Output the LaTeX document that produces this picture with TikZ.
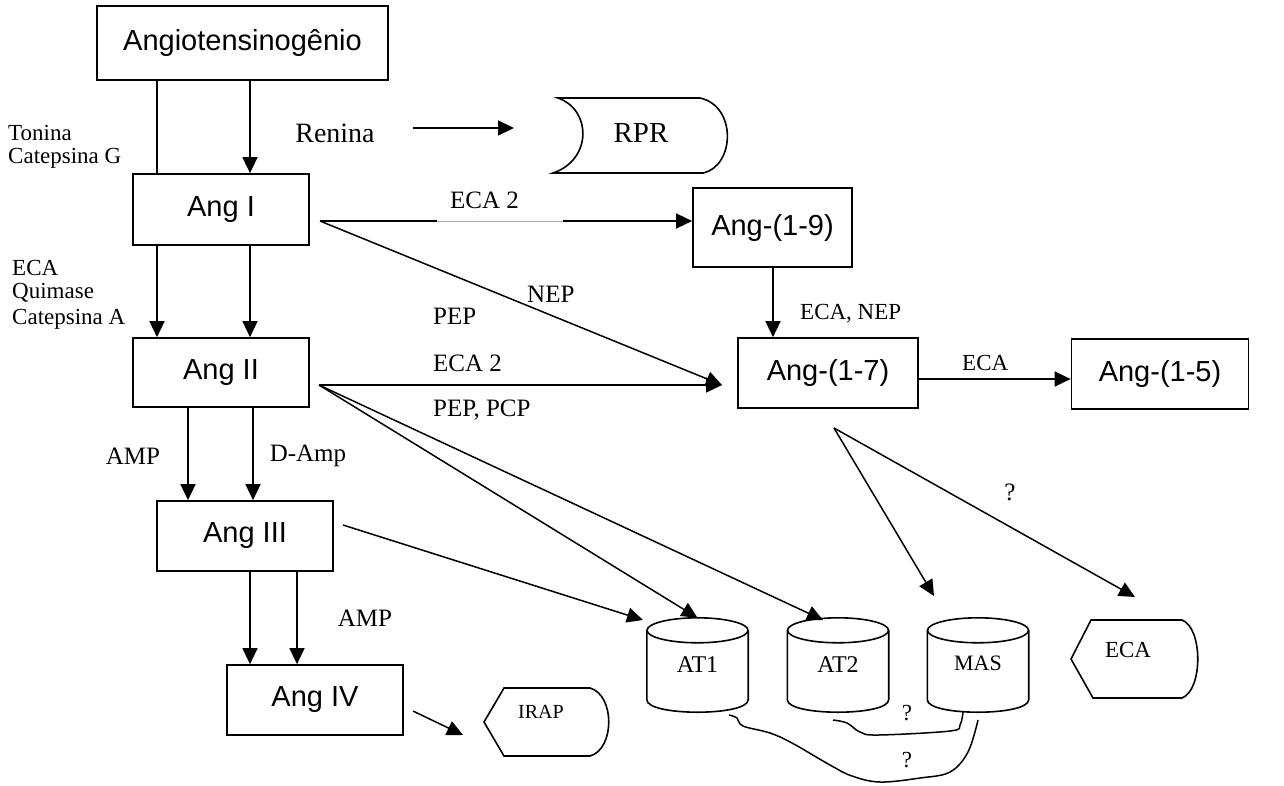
\documentclass[tikz,border=0pt]{standalone}
\usepackage{fontspec}
\setmainfont{Liberation Serif}
\newfontfamily\arialfont{Liberation Sans}
\usetikzlibrary{arrows.meta}
\newcommand\drawcyl[1]{%
 \draw[shp] ([yshift=-12.5pt]#1.north west) -- ([yshift=12.5pt]#1.south west)
   .. controls ([yshift=-4.17pt]#1.south west) and ([yshift=-4.17pt]#1.south east) .. ([yshift=12.5pt]#1.south east)
   -- ([yshift=-12.5pt]#1.north east);
 \draw[shp] ([yshift=-12.5pt]#1.north) ellipse [x radius=50.5pt, y radius=12.5pt];}
\begin{document}
\begin{tikzpicture}[x=1pt,y=-1pt,
  box/.style={draw, line width=1.7pt, inner sep=0pt, font=\arialfont\fontsize{29}{32}\selectfont},
  lbl/.style={font=\fontsize{23}{26}\selectfont, inner sep=0pt},
  lblb/.style={font=\fontsize{25}{28}\selectfont, inner sep=0pt},
  cyl/.style={minimum width=101pt, minimum height=94pt, inner sep=0pt, font=\fontsize{24}{26}\selectfont},
  arr/.style={line width=1.5pt, -{Triangle[length=16pt,width=15pt]}},
  ln/.style={line width=1.5pt},
  shp/.style={line width=1.6pt}]
\useasboundingbox (0,0) rectangle (1284,785);

% boxes
\node[box, minimum width=291pt, minimum height=74pt] (angio) at (242.5,43) {Angiotensinog\^enio};
\node[box, minimum width=176pt, minimum height=71pt] (angI) at (221,209.5) {Ang I};
\node[box, minimum width=176pt, minimum height=69pt] (angII) at (221,372.5) {Ang II};
\node[box, minimum width=176pt, minimum height=70pt] (angIII) at (245,536) {Ang III};
\node[box, minimum width=176pt, minimum height=70pt] (angIV) at (315,700) {Ang IV};
\node[box, minimum width=159pt, minimum height=79pt] (a19) at (772.5,227.5) {Ang-(1-9)};
\node[box, minimum width=180pt, minimum height=70pt] (a17) at (828,373) {Ang-(1-7)};
\node[box, minimum width=177pt, minimum height=70pt] (a15) at (1160,374) {Ang-(1-5)};

% RPR
\node[font=\fontsize{29}{32}\selectfont, inner sep=0pt] (rpr) at (641,133) {RPR};
\draw[shp] (558,98) .. controls (592,110) and (592,160) .. (553,173) -- (703,173)
  .. controls (735,166) and (737,106) .. (700,98) -- cycle;

% cylinders
\node[cyl] (at1) at (697.5,665) {AT1};
\node[cyl] (at2) at (838,665) {AT2};
\node[cyl, font=\fontsize{22}{24}\selectfont] (mas) at (978,665) {\raisebox{3pt}{MAS}};
\drawcyl{at1}
\drawcyl{at2}
\drawcyl{mas}

% display shapes
\node[font=\fontsize{20}{22}\selectfont, inner sep=0pt] (irap) at (541,712) {IRAP};
\draw[shp] (484,722) -- (504,688) -- (590,688) .. controls (615,695) and (615,749) .. (590,756) -- (504,756) -- cycle;
\node[lbl] (ecas) at (1128,650) {ECA};
\draw[shp] (1071,659) -- (1091,620) -- (1182,620) .. controls (1203,628) and (1203,690) .. (1182,698) -- (1093,698) -- cycle;

% labels
\node[lbl, anchor=west] (ton) at (8,133) {Tonina};
\node[lbl, anchor=west] (catg) at (8,158) {Catepsina G};
\node[font=\fontsize{28}{30}\selectfont, inner sep=0pt] (ren) at (335,133) {Renina};
\node[lbl, anchor=west] (eca1) at (12,268) {ECA};
\node[lbl, anchor=west] (quim) at (12,293) {Quimase};
\node[lbl, anchor=west] (cata) at (12,319) {Catepsina A};
\node[lblb, anchor=west] (eca2a) at (450,200) {ECA 2};
\node[lblb, anchor=west] (nep) at (527,294) {NEP};
\node[lblb, anchor=west] (pep) at (433,316) {PEP};
\node[lblb, anchor=west] (eca2b) at (433,363) {ECA 2};
\node[lblb, anchor=west] (peppcp) at (433,410) {PEP, PCP};
\node[lbl, anchor=west] (ecanep) at (800,314) {ECA, NEP};
\node[lbl, anchor=west] (eca3) at (962,363) {ECA};
\node[lblb] (q1) at (1010,492) {?};
\node[lblb] (amp1) at (133,456) {AMP};
\node[lblb] (damp) at (308,456) {D-Amp};
\node[lblb] (amp2) at (365,618) {AMP};
\node[lbl] (q2) at (907,713) {?};
\node[lbl] (q3) at (907,760) {?};

% vertical connectors
\draw[ln] (157,0 |- angio.south) -- (157,0 |- angI.north);
\draw[arr] (250,0 |- angio.south) -- (250,0 |- angI.north);
\draw[arr] (157,0 |- angI.south) -- (157,0 |- angII.north);
\draw[arr] (250,0 |- angI.south) -- (250,0 |- angII.north);
\draw[arr] (188,0 |- angII.south) -- (188,0 |- angIII.north);
\draw[arr] (253,0 |- angII.south) -- (253,0 |- angIII.north);
\draw[arr] (250,0 |- angIII.south) -- (250,0 |- angIV.north);
\draw[arr] (297,0 |- angIII.south) -- (297,0 |- angIV.north);
\draw[arr] (773,0 |- a19.south) -- (773,0 |- a17.north);

% Renina arrow
\coordinate (renA) at (413,128);
\coordinate (renB) at (514,128);
\draw[arr] (renA) -- (renB);

% from Ang I
\coordinate (oI) at (320,221);
\coordinate (in17) at (722,385);
\draw[arr] (oI) -- (oI -| a19.west);
\draw[white, line width=1.8pt] (437,221) -- (563,221);
\draw[gray!70, line width=0.7pt] (437,221) -- (563,221);
\draw[arr] (oI) -- (in17);

% from Ang II
\coordinate (oII) at (319,385);
\coordinate (at2in) at (823,620);
\draw[arr] (oII) -- (in17);
\draw[arr] (oII) -- (at1.north);
\draw[arr] (oII) -- (at2in);

% from Ang III
\coordinate (oIII) at (343,525);
\coordinate (at1in) at (643,620);
\draw[arr] (oIII) -- (at1in);

% from Ang IV
\coordinate (oIV) at (413,711);
\coordinate (irapin) at (463,735);
\draw[arr] (oIV) -- (irapin);

% Ang-(1-7) onward
\draw[arr] (a17.east |- 0,379) -- (a15.west |- 0,379);
\coordinate (o17) at (834,428);
\coordinate (masin) at (934,596);
\coordinate (ecain) at (1135,597);
\draw[arr] (o17) -- (masin);
\draw[arr] (o17) -- (ecain);

% wavy links
\draw[ln] plot[smooth, tension=0.6] coordinates {(729,715) (737,718) (743,726) (770,733) (792,743) (830,765) (852,776) (880,782) (920,778) (950,772) (968,752) (978,720)};
\draw[ln] plot[smooth, tension=0.6] coordinates {(833,720) (847,723) (860,732) (878,735) (950,731) (960,725) (963,712)};
\end{tikzpicture}
\end{document}
